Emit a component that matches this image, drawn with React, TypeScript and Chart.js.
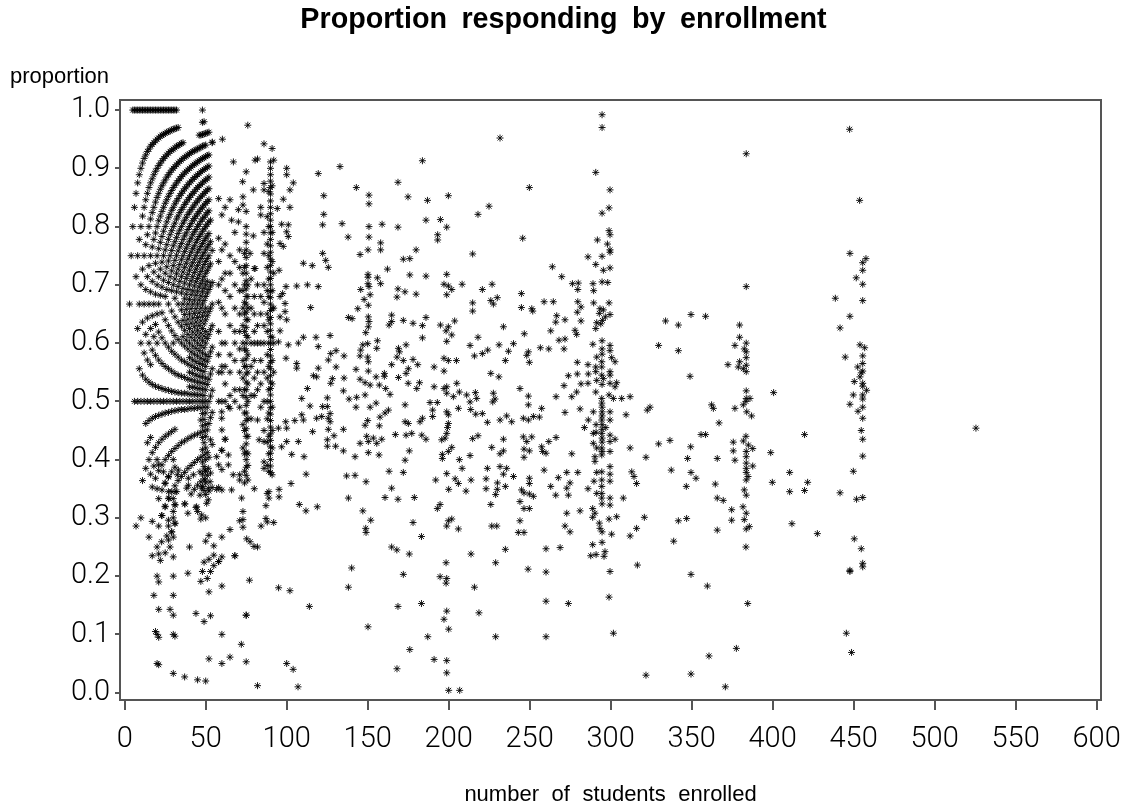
import React, { useEffect, useRef } from "react";
import { Chart, registerables } from "chart.js";

Chart.register(...registerables);

const titleText = "Proportion responding by enrollment";
const yLabelText = "proportion";
const xLabelText = "number of students enrolled";
const xTicksStep = 50;
const yTicksStep = 0.1;

// columns of enrollment -> proportions read from the dense left-hand arcs
const columnsLeft: [number, number[]][] = [
  [3, [.667]], [4, [.75]], [5, [1, .8]], [6, [1, .833, .5]], [7, [1, .857, .714, .286]],
  [8, [1, .875, .75, .625, .5]], [9, [1, .889, .778, .667, .556]], [10, [1, .9, .8, .7, .6, .5, .3]],
  [11, [1, .909, .818, .727, .636, .545, .364]], [12, [1, .917, .833, .75, .667, .583, .5]],
  [13, [1, .923, .846, .769, .692, .615, .538, .462, .385]], [14, [1, .929, .857, .786, .714, .643, .571, .5, .429]],
  [15, [1, .933, .867, .8, .733, .667, .6, .533, .467, .4, .267]],
  [16, [1, .938, .875, .813, .75, .688, .625, .563, .5, .438, .375]],
  [17, [1, .941, .882, .824, .765, .706, .647, .588, .529, .471, .412, .353, .294, .235]],
  [18, [1, .944, .889, .833, .778, .722, .667, .611, .5, .389, .167]],
  [19, [1, .947, .895, .842, .789, .737, .684, .632, .579, .526, .474, .421, .368, .105]],
  [20, [1, .95, .9, .85, .8, .75, .7, .65, .6, .5, .4, .35, .25, .2, .1, .05]],
  [21, [1, .952, .905, .857, .81, .762, .714, .667, .619, .571, .524, .476, .429, .381, .333, .286, .238, .19, .143, .095, .048]],
  [22, [1, .955, .909, .864, .818, .773, .727, .682, .5, .227]],
  [23, [1, .957, .913, .87, .826, .783, .739, .696, .652, .609, .565, .522, .478, .435, .391, .348, .304]],
  [24, [1, .958, .917, .875, .833, .792, .75, .708, .5]],
  [25, [1, .96, .92, .88, .84, .8, .76, .72, .68, .64, .6, .56, .52, .48, .44, .4, .36, .32, .24]],
  [26, [1, .962, .923, .885, .846, .808, .769, .731, .692, .5, .269]],
  [27, [1, .963, .926, .889, .852, .815, .778, .741, .704, .667, .63, .593, .556, .519, .481, .444, .407, .37, .333, .296]],
  [28, [1, .964, .929, .893, .857, .821, .786, .75, .714, .5, .25, .143]],
  [29, [1, .966, .931, .897, .862, .828, .793, .759, .724, .69, .655, .621, .586, .552, .517, .483, .448, .414, .379, .345, .276]],
  [30, [1, .967, .933, .9, .867, .833, .8, .767, .733, .7, .6, .5, .4, .333, .3, .267, .233, .2, .167, .133, .1, .033]],
  [31, [1, .968, .935, .903, .871, .839, .806, .774, .742, .71, .677, .645, .613, .581, .548, .516, .484, .452, .419, .387, .355, .323, .29, .097]],
  [32, [1, .969, .938, .906, .875, .844, .813, .781, .75, .719, .688, .5]],
  [33, [.97, .939, .909, .879, .848, .818, .788, .758, .727, .697, .667, .636, .606, .576, .545, .515, .485, .424, .364]],
  [34, [.941, .912, .882, .853, .824, .794, .765, .735, .706, .5]],
  [35, [.943, .914, .886, .857, .829, .8, .771, .743, .714, .686, .657, .629, .6, .571, .543, .514, .486, .429, .371]],
  [36, [.944, .917, .889, .861, .833, .806, .778, .75, .722, .694, .667, .639, .611, .5]],
  [37, [.919, .892, .865, .838, .811, .784, .757, .73, .703, .676, .649, .622, .595, .568, .541, .514, .486, .432, .378, .324, .027]],
  [38, [.921, .895, .868, .842, .816, .789, .763, .737, .711, .684, .658, .632, .605, .5]],
  [39, [.923, .897, .872, .846, .821, .795, .769, .744, .718, .692, .667, .641, .615, .59, .564, .538, .513, .487, .436, .385, .308, .205]],
  [40, [.925, .9, .875, .85, .825, .8, .775, .75, .725, .7, .675, .65, .625, .6, .575, .55, .525, .5, .25]],
  [41, [.927, .902, .878, .854, .829, .805, .78, .756, .732, .707, .683, .659, .634, .61, .585, .561, .537, .512, .488, .439, .39, .341]],
  [42, [.929, .905, .881, .857, .833, .81, .786, .762, .738, .714, .69, .667, .643, .619, .595, .571, .548, .524, .5]],
  [43, [.93, .907, .884, .86, .837, .814, .791, .767, .744, .721, .698, .674, .651, .628, .605, .581, .558, .535, .512, .488, .442, .395, .349]],
  [44, [.932, .909, .886, .864, .841, .818, .795, .773, .75, .727, .705, .682, .659, .636, .614, .591, .568, .545, .523, .5, .318, .136]],
  [45, [.933, .911, .889, .867, .844, .822, .8, .778, .756, .733, .711, .689, .667, .644, .622, .6, .578, .556, .533, .511, .489, .444, .4, .356, .311, .022]],
  [46, [.957, .935, .913, .891, .87, .848, .826, .804, .783, .761, .739, .717, .696, .674, .652, .63, .609, .587, .565, .543, .522, .5]],
  [47, [.957, .936, .915, .894, .872, .851, .83, .809, .787, .766, .745, .723, .702, .681, .66, .638, .617, .596, .574, .553, .532, .511, .489, .468, .447, .404, .362, .298, .191]],
  [48, [1, .979, .958, .938, .917, .896, .875, .854, .833, .813, .792, .771, .75, .729, .708, .688, .667, .646, .625, .604, .583, .563, .542, .521, .5, .479, .458, .438, .417, .396, .375, .354, .208]],
  [49, [.98, .959, .939, .918, .898, .878, .857, .837, .816, .796, .776, .755, .735, .714, .694, .673, .653, .633, .612, .592, .571, .551, .531, .51, .49, .469, .449, .429, .408, .388, .367, .347, .224, .122]],
  [50, [.96, .94, .92, .9, .88, .86, .84, .82, .8, .78, .76, .74, .72, .7, .68, .66, .64, .62, .6, .58, .56, .54, .52, .5, .48, .46, .44, .42, .4, .38, .36, .34, .3, .26, .02]],
  [51, [.961, .922, .902, .882, .863, .843, .824, .804, .784, .765, .745, .725, .706, .686, .647, .608, .569, .529, .49, .451, .412, .373, .196]],
  [52, [.962, .923, .904, .885, .865, .846, .827, .808, .788, .769, .75, .731, .692, .654, .615, .577, .538, .5, .462, .404, .346, .27, .229, .173, .058]],
  [53, [.811, .774, .736, .698, .66, .623, .585, .547, .509, .472, .434, .377, .208, .132]],
  [54, [.944, .759, .704, .667, .63, .593, .556, .519, .481, .426, .352]],
];

// columns further right
const columnsMid: [number, number[]][] = [
  [58, [.848, .78, .74, .7, .67, .62, .58, .55, .5, .391, .352, .225]],
  [60, [.82, .76, .71, .66, .6, .55, .5, .451, .416, .383, .348, .267, .233, .183, .1, .05]],
  [62, [.833, .77, .72, .69, .65, .6, .56, .53, .5, .435]],
  [65, [.846, .75, .72, .68, .63, .58, .55, .51, .488, .28, .061]],
  [68, [.79, .74, .7, .66, .62, .6, .57, .52, .5, .235]],
  [71, [.76, .73, .69, .65, .62, .59, .55, .52, .49, .374, .365, .295]],
  [73, [.851, .837, .72, .69, .66, .63, .6, .57, .54, .51, .46, .42, .311, .297, .284]],
  [74, [.754, .73, .7, .67, .65, .62, .59, .56, .52, .48, .45, .41, .38, .36]],
  [75, [.894, .826, .8, .787, .773, .76, .747, .733, .72, .707, .693, .68, .667, .653, .64, .627, .613, .6, .587, .573, .56, .547, .533, .52, .507, .493, .48, .467, .453, .44, .427, .413, .4, .387, .373, .133, .053]],
  [76, [.974, .7, .68, .66, .64, .61, .58, .55, .53, .5, .47, .44, .41, .39, .365]],
  [78, [.71, .66, .6, .56, .51, .47]],
  [80, [.728, .68, .65, .62, .6, .57, .54, .51, .35]],
  [82, [.916, .7, .63, .6, .55, .52, .468, .25, .012]],
  [84, [.833, .82, .68, .65, .6, .57, .53, .49]],
  [86, [.942, .874, .863, .79, .754, .7, .67, .63, .6, .55, .5, .45, .431, .396, .385]],
  [88, [.817, .77, .73, .69, .65, .62, .58, .54, .5, .47, .43, .39, .342, .293]],
  [89, [.86, .8, .75, .71, .68, .64, .6, .56, .52, .48, .44, .41, .38, .345, .334]],
  [90, [.911, .9, .889, .878, .867, .856, .844, .833, .822, .811, .8, .789, .778, .767, .756, .744, .733, .722, .711, .7, .689, .678, .667, .656, .644, .633, .622, .611, .6, .589, .578, .567, .556, .544, .533, .522, .511, .5, .489, .478, .467, .456, .444, .433, .422, .411, .4, .389, .378]],
  [91, [.934, .87, .79, .74, .69, .66, .61, .57, .53, .49, .45, .42, .374]],
  [92, [.914, .72, .66, .6, .55, .292]],
];

const scatterNear: [number, number][] = [
  [60.3, .95], [54.1, .945], [67.1, .911], [80.5, .914], [100, .9], [100, .889], [119.5, .891], [72.8, .877],
  [104.1, .875], [102, .863], [79.4, .863], [97.9, .847], [102, .833], [94.2, .831], [70.2, .829], [96.9, .804],
  [101, .803], [100, .791], [101, .783], [79.4, .784], [95.9, .771], [97.9, .766], [70.2, .808], [66, .811],
  [77.4, .754], [110.3, .737], [115.8, .733], [95.3, .725], [80.5, .728], [99.6, .697], [106.2, .698], [112.8, .7],
  [119.5, .697], [97.5, .685], [95.9, .68], [114.8, .661], [99, .668], [95.9, .645], [99, .654], [100, .64],
  [110.3, .61], [107.2, .6], [118.1, .61], [101, .597], [119.5, .594], [95.9, .621], [94.9, .602], [99.6, .574],
  [106.2, .565], [106.2, .557], [116.5, .544], [118.5, .542], [112.8, .522], [109.3, .505], [114.4, .492], [119.5, .557],
  [83, .434], [94.9, .454], [100, .454], [99.4, .465], [105, .467], [110.3, .468], [109.3, .477], [116, .448],
  [118.5, .471], [96.9, .422], [100, .431], [107.2, .431], [103.1, .409], [110.7, .405], [112, .375], [102.7, .359],
  [95.3, .349], [95.3, .336], [72.2, .334], [87.2, .321], [84.2, .286], [87.2, .299], [107.8, .323], [111.9, .312],
  [118.9, .319], [75.3, .264], [77.4, .259], [79.8, .251], [95, .18], [102, .175], [114, .148], [77, .193],
  [72, .083], [100, .05], [104, .04], [107, .01], [75, .133], [55, .252], [55, .236], [55, .218], [58, .225], [68, .235],
];

const scatterTopMid: [number, number][] = [
  [294.7, .992], [294.7, .97], [231.7, .952], [183.8, .913], [132.9, .903], [290.8, .893], [143, .867], [168.7, .876],
  [150.8, .854], [150.8, .839], [174.9, .851], [186.9, .845], [199.8, .853], [249.8, .867], [299.6, .863], [299, .832],
  [294.7, .823], [224.9, .835], [218.1, .821], [122.9, .853], [122.9, .821], [122.2, .803], [134.2, .805], [150.8, .8],
  [158.9, .804], [168.7, .799], [186, .811], [194.9, .812], [198.8, .799], [193.2, .786], [193.2, .777], [137.9, .782],
  [150.8, .782], [158, .772], [158, .76], [150.2, .76], [145.3, .752], [179.9, .76], [172, .744], [176, .745],
  [245.7, .78], [214.8, .753], [291.8, .777], [299, .793], [299.6, .786], [298, .77], [299.6, .76], [299.6, .756],
  [286, .748], [294.7, .749], [290.8, .735], [295.5, .725], [299.6, .729], [264, .731], [269.8, .714], [276.4, .702],
  [280, .703], [279.7, .692], [289.1, .702], [289.5, .69], [294.7, .705], [298.2, .704], [122.2, .754], [124.1, .742],
  [125.7, .73], [150.2, .718], [150.2, .713], [156, .712], [158, .702], [162.2, .727], [176, .717], [186, .715],
  [198.8, .718], [150.2, .702], [150.8, .697], [145.7, .692], [151.5, .683], [147.8, .675], [150.4, .665], [168.7, .693],
  [168.1, .679], [173, .688], [179.9, .684], [197.1, .701], [199.8, .698], [201.9, .692], [198.8, .683], [208.3, .701],
  [220.8, .692], [226.8, .701], [226, .673], [230, .678], [227.6, .667], [214.8, .669], [214.8, .655], [244.9, .685],
  [244.9, .661], [251.3, .659], [251.9, .655], [258.9, .671], [264.6, .671], [279.7, .671], [281.7, .662], [279.4, .653],
  [289.5, .669], [299, .669], [293.4, .659], [295.5, .657], [293, .651], [299.6, .649], [296.7, .645], [294.9, .639],
  [291.4, .635], [293.9, .633], [290.8, .625], [281.7, .638], [271.8, .64], [266.7, .647], [266.1, .636], [263, .621],
  [278, .622], [279, .615], [233.8, .628], [246.7, .616], [218.1, .61], [198.8, .603], [201.9, .614], [198.4, .621],
  [199.8, .628], [194.9, .631], [203.7, .638], [186, .644], [183.8, .63], [183.8, .609], [178, .634], [172, .639],
  [164.8, .648], [164.8, .637], [163.2, .631], [138.1, .644], [140.4, .642], [143.9, .659], [150.4, .645], [150.8, .637],
  [150.4, .628], [148.8, .618], [126.8, .613],
];

const scatterMidBand: [number, number][] = [
  [150, .599], [156, .604], [155.6, .591], [147, .597], [145.7, .588], [130.5, .587], [127.2, .582], [135.4, .578],
  [145.3, .578], [150, .576], [150.4, .568], [173.7, .597], [169, .591], [169.6, .585], [168.1, .576], [172, .57],
  [178, .572], [180.9, .563], [164.8, .563], [197.1, .574], [199.8, .57], [204.8, .57], [191, .559], [197.1, .552],
  [213.2, .596], [231.1, .597], [240, .599], [236.9, .586], [224.1, .588], [220.8, .582], [215.9, .578], [235, .57],
  [249.2, .585], [248.2, .579], [249.8, .567], [256.6, .592], [261.8, .59], [268.1, .605], [271.8, .607], [271.2, .59],
  [279.4, .567], [286, .563], [289, .598], [294.7, .604], [299.6, .596], [299.6, .587], [294.7, .59], [294.7, .581],
  [291.4, .576], [294.5, .568], [300.6, .575], [302.7, .568], [290.8, .559], [294.5, .559], [286.2, .547], [290.8, .551],
  [299.6, .551], [299.6, .545], [294.5, .545], [295.5, .539], [291.4, .536], [294.7, .529], [299.6, .531], [303.7, .532],
  [302.7, .525], [279.4, .547], [273.9, .544], [281.7, .53], [286, .531], [271.2, .527], [279, .516], [299, .511],
  [301.7, .505], [306.8, .505], [312, .508], [266.3, .508], [276, .508], [290.8, .516], [294.5, .505], [249.2, .509],
  [244, .522], [226, .548], [231, .542], [227.6, .514], [228.6, .504], [205, .531], [198.8, .525], [191, .525],
  [197.1, .522], [198.8, .514], [202.9, .508], [206.6, .516], [211.1, .511], [216.5, .515], [217.3, .505], [175, .531],
  [180.3, .522], [182, .532], [173.7, .548], [175.1, .556], [169, .541], [160.3, .548], [160.3, .543], [155.2, .542],
  [145.3, .538], [148.4, .532], [151.5, .528], [157.2, .528], [161.1, .522], [163.8, .512], [150.4, .552], [142.8, .555],
  [130.5, .559], [135.4, .54], [128.2, .539], [127.2, .531], [135, .518], [125.7, .571], [125.1, .506], [138.5, .504],
  [143.2, .507], [148.4, .511],
];

const scatterLowMid: [number, number][] = [
  [142.8, .49], [151.5, .49], [155.2, .497], [162.8, .485], [160.7, .48], [157.6, .473], [173.1, .494], [188.5, .498],
  [193, .498], [206, .488], [198.8, .482], [190.1, .485], [190.1, .474], [213.6, .486], [216.7, .478], [220.8, .479],
  [213.2, .499], [227.2, .499], [249.2, .494], [257.4, .488], [271.8, .481], [281.1, .487], [309.5, .477], [289.3, .482],
  [286.2, .468], [283.8, .455], [294.5, .497], [299.6, .482], [299.6, .468], [294.5, .468], [289.3, .445], [294.5, .445],
  [299.6, .442], [302.7, .435], [299.6, .431], [289.3, .428], [294.5, .42], [291.4, .42], [299.6, .414], [294.5, .408],
  [290.3, .405], [290.3, .397], [312, .42], [276, .41], [266.3, .438], [261.8, .431], [257.4, .422], [258, .414],
  [260.1, .411], [249.2, .468], [246.1, .471], [252.3, .474], [256, .473], [238.9, .465], [235.8, .475], [231.7, .468],
  [223.9, .464], [218.1, .441], [214.8, .436], [233.8, .435], [246.1, .439], [251.3, .439], [248.2, .431], [226.6, .421],
  [233.8, .415], [231.7, .41], [246.5, .418], [249.8, .415], [246.5, .404], [213.2, .407], [206.6, .4], [201.9, .421],
  [199.8, .414], [196.1, .409], [196.1, .402], [197.8, .437], [199.8, .462], [199.8, .477], [198.8, .445], [195.7, .434],
  [199.3, .455], [182.3, .465], [183.8, .471], [175.1, .462], [173.1, .465], [173.7, .442], [177.2, .445], [183.4, .442],
  [186, .435], [167.1, .443], [157.2, .458], [150, .467], [148.4, .459], [149.4, .44], [150.4, .431], [158.7, .435],
  [153.5, .437], [155.6, .428], [145.3, .428], [135, .452], [125.7, .452], [129.2, .441], [125.1, .434], [125.1, .423],
  [130.2, .423], [135, .415], [150.4, .412], [157, .408], [142.2, .405], [175.7, .415], [173.1, .399], [125.1, .491],
  [126.8, .479], [126.8, .465], [122.2, .491], [121.6, .474], [125.7, .471], [294.7, .49], [294.7, .482], [294.7, .475],
  [294.7, .46], [294.7, .452], [294.7, .437], [294.7, .43], [294.7, .414], [291, .46], [291, .447], [297, .455],
  [163.2, .38], [172, .378], [198.8, .376], [208.3, .385], [192, .365], [204, .367], [206, .359], [200, .349],
  [213.8, .365], [210.7, .346], [223.9, .385], [223.1, .367], [223.1, .35], [229, .34], [230.1, .36], [230, .349],
  [235, .354], [231.7, .388], [235.8, .385], [233.8, .375], [240, .371], [249.8, .368], [249.8, .359], [245, .348],
  [246.5, .343], [249.8, .341], [252.3, .337], [258.9, .382], [267.7, .369], [272.9, .378], [274.9, .36], [272.9, .351],
  [279.7, .378], [263, .354], [266.1, .339], [273.9, .339], [286, .35], [289.7, .363], [291.4, .378], [294.5, .379],
  [299.6, .388], [299.6, .375], [299.6, .363], [294.5, .365], [294.5, .354], [291.4, .342], [294.5, .342], [299.6, .334],
  [294.5, .334], [299.6, .322], [294.7, .324], [307.8, .334], [313, .379], [314.4, .371], [316, .359], [137, .372],
  [142.2, .373], [149, .362], [164.8, .351], [138.1, .334], [160.7, .335], [168.7, .332], [178.8, .335], [147, .312],
  [151.9, .296], [148.8, .282], [149, .275], [178, .292], [183.2, .268], [164.8, .25], [168, .245], [175.7, .238],
  [193, .316], [194.7, .323], [198.8, .286], [199.8, .295], [201.9, .298], [206, .281], [226, .323], [244, .328],
  [246.5, .316], [249.8, .316], [244, .295], [226.6, .286], [229.7, .286], [243, .275], [246.5, .275], [235, .246],
  [213.8, .238], [198.4, .223], [229, .223], [249, .212], [260.1, .247], [268.8, .249], [260.1, .207], [272.9, .308],
  [281.1, .312], [271.8, .286], [274.9, .276], [288.9, .316], [290.3, .308], [288.9, .301], [299, .298], [303.7, .302],
  [293, .291], [293.4, .282], [294.7, .276], [300.6, .272], [312, .269], [316, .282], [288.9, .254], [294.7, .258],
  [296.5, .242], [287.7, .235], [291, .237], [295.9, .234], [316.5, .219], [299.6, .208], [140.1, .214], [172, .203],
  [138.1, .181], [194.7, .199], [198.8, .196], [198.4, .188], [215.9, .181], [299, .164], [260.1, .157], [273.9, .153],
  [168.7, .148], [183.2, .153], [198.8, .14], [197.1, .126], [218.7, .137], [150.2, .113], [200, .109], [187.1, .096],
  [229, .096], [260.1, .096], [301.7, .102], [176, .074], [191, .057], [198.8, .055], [168.1, .041], [198.8, .034],
  [200, .004], [206.8, .004],
];

const scatterRight: [number, number][] = [
  [447.5, .967], [383.7, .925], [453.7, .845], [447.7, .754], [457.6, .745], [455.6, .738], [455.6, .725], [451.6, .712],
  [455.6, .701], [438.7, .677], [455.6, .673], [383.7, .697], [447.7, .646], [441.6, .626], [349.6, .649], [358.6, .646],
  [333.9, .638], [341.8, .631], [379.6, .631], [379.6, .61], [383.7, .6], [376.7, .596], [329.6, .596], [341.8, .587],
  [382.5, .59], [383.7, .585], [383.7, .575], [379.6, .568], [372.4, .563], [378.8, .559], [383.7, .562], [381.9, .556],
  [383.7, .551], [349, .543], [383.7, .518], [383.7, .505], [386, .505], [400.6, .515], [453.9, .597], [456.8, .592],
  [455.6, .578], [444.8, .576], [455.6, .565], [452.5, .559], [455.6, .552], [454.7, .549], [453.9, .542], [450.4, .534],
  [455.6, .531], [455.6, .526], [458, .519], [449.8, .511], [455.6, .511], [455.6, .504], [324.3, .49], [322.6, .485],
  [362.3, .494], [363.4, .488], [376.7, .488], [381.9, .494], [383.5, .5], [384, .482], [387, .475], [366.9, .463],
  [355.8, .443], [358.6, .443], [336.6, .433], [329.6, .427], [349.4, .422], [321.8, .404], [347.5, .402], [365.8, .402],
  [376.7, .399], [375.7, .43], [375.7, .415], [383.5, .44], [381.9, .432], [385, .425], [387.7, .419], [383.7, .414],
  [383.7, .405], [383.7, .394], [383.7, .385], [387.7, .389], [383.7, .378], [384.8, .371], [383.7, .365], [382.5, .348],
  [383.7, .339], [381.7, .319], [383.7, .308], [382.5, .297], [385.6, .285], [383.7, .281], [374.7, .314], [374.7, .296],
  [365.8, .279], [383.5, .25], [365.8, .334], [369.5, .33], [364.6, .358], [337.4, .382], [349.6, .378], [352.7, .368],
  [346.7, .354], [320.8, .301], [341.8, .295], [346.9, .299], [338.9, .26], [349.6, .203], [359.7, .183], [384.6, .153],
  [377.6, .076], [360.7, .063], [321.8, .03], [349.6, .032], [370.8, .01], [398.8, .412], [399.8, .361], [410.5, .378],
  [410.5, .345], [419.7, .443], [421.6, .361], [419.7, .347], [441.6, .343], [411.9, .29], [427.6, .273], [447.7, .495],
  [452.7, .483], [455.6, .49], [455.6, .471], [454.7, .45], [455.6, .435], [455.6, .406], [449.8, .38], [455.6, .335],
  [451.8, .332], [450.4, .264], [454.7, .247], [455.6, .222], [455.6, .216], [447.7, .21], [447.7, .208], [445.5, .102],
  [448.7, .069], [525.5, .454],
];

const lowLeftCluster: [number, number][] = [
  [38.3, .351], [39.3, .356], [39.3, .368], [42.4, .374], [46.5, .379], [49.6, .382], [51.6, .385], [37.2, .324],
  [44.4, .319], [47.5, .305], [51.6, .331], [50.6, .325], [46.5, .339], [47.5, .351], [49.6, .365], [52.7, .362],
  [51.6, .351], [27.4, .334], [24.9, .319], [22.8, .304], [30, .311], [31.1, .322], [31.1, .291], [27, .286],
  [29, .276], [27, .262], [22.8, .259], [32.5, .374], [33.1, .382], [27, .371], [23.9, .379], [20.8, .391],
  [31.1, .345], [27, .345], [24.9, .359], [32.1, .345], [56.8, .405], [64, .408], [62, .435], [64, .391],
  [67, .374], [56.8, .349], [66, .348], [59.9, .416], [64, .491], [59.9, .482], [59.9, .471], [60, .56],
];

const toPoints = (cols: [number, number[]][]) =>
  cols.flatMap(([x, ys]) => ys.map((y) => ({ x, y })));
const fromPairs = (pairs: [number, number][]) => pairs.map(([x, y]) => ({ x, y }));

const allPoints = [
  ...toPoints(columnsLeft),
  ...toPoints(columnsMid),
  ...fromPairs(scatterNear),
  ...fromPairs(scatterTopMid),
  ...fromPairs(scatterMidBand),
  ...fromPairs(scatterLowMid),
  ...fromPairs(scatterRight),
  ...fromPairs(lowLeftCluster),
];

const AXIS = "#555555";
const FONT = "'Liberation Sans', Arial, sans-serif";
const TICK_FONT = { family: "Roboto, 'Liberation Sans', sans-serif", size: 29, weight: "300" };

export default function App() {
  const ref = useRef<HTMLCanvasElement>(null);
  useEffect(() => {
    const spacing = {
      id: "wordSpacing",
      beforeDraw(c: any) {
        c.ctx.wordSpacing = "6.5px";
      },
    };
    const chart = new Chart(ref.current!, {
      type: "scatter",
      data: {
        datasets: [
          {
            label: "proportion",
            data: allPoints,
            pointStyle: "star",
            pointRadius: 3.5,
            pointBorderWidth: 0.9,
            borderColor: "#000",
            backgroundColor: "#000",
            pointBorderColor: "#000",
          },
        ],
      },
      plugins: [spacing],
      options: {
        responsive: false,
        animation: false,
        layout: { padding: { left: 10, right: 10, top: 0, bottom: 0 } },
        plugins: {
          legend: { display: false },
          tooltip: { enabled: false },
          title: {
            display: true,
            text: titleText,
            color: "#000",
            font: { family: FONT, size: 28.7, weight: "bold" },
            padding: { top: 3, bottom: 0 },
          },
          subtitle: {
            display: true,
            text: yLabelText,
            align: "start",
            color: "#000",
            font: { family: FONT, size: 22, weight: "normal" },
            padding: { top: 26.4, bottom: 9.8 },
          },
        },
        scales: {
          x: {
            type: "linear",
            min: -2.9,
            max: 602.7,
            position: "bottom",
            afterFit: (s: any) => {
              s.height = 109;
              s.paddingRight = 0;
              s.paddingLeft = 0;
            },
            grid: { drawOnChartArea: false, tickLength: 10, color: AXIS, lineWidth: 2 },
            border: { color: AXIS, width: 2 },
            ticks: {
              stepSize: xTicksStep,
              includeBounds: false,
              color: "#000",
              maxRotation: 0,
              autoSkip: false,
              padding: 12.6,
              font: TICK_FONT,
            },
            title: {
              display: true,
              text: xLabelText,
              color: "#000",
              font: { family: FONT, size: 22 },
              padding: { top: 0, bottom: 0.8 },
            },
          },
          y: {
            type: "linear",
            min: -0.0126,
            max: 1.0172,
            position: "left",
            afterFit: (s: any) => {
              s.width = 110;
              s.paddingTop = 0;
              s.paddingBottom = 0;
            },
            grid: { drawOnChartArea: false, tickLength: 5, color: AXIS, lineWidth: 2 },
            border: { color: AXIS, width: 2 },
            ticks: {
              stepSize: yTicksStep,
              includeBounds: false,
              color: "#000",
              padding: 5,
              autoSkip: false,
              font: TICK_FONT,
              callback: (v: any) => Number(v).toFixed(1),
            },
          },
          xTop: {
            type: "linear",
            position: "top",
            display: true,
            afterFit: (s: any) => {
              s.height = 0;
            },
            grid: { display: false, drawTicks: false },
            border: { display: true, color: AXIS, width: 2 },
            ticks: { display: false },
          },
          yRight: {
            type: "linear",
            position: "right",
            display: true,
            afterFit: (s: any) => {
              s.width = 16;
            },
            grid: { display: false, drawTicks: false },
            border: { display: true, color: AXIS, width: 2 },
            ticks: { display: false },
          },
        },
      },
    } as any);
    return () => chart.destroy();
  }, []);
  return (
    <div style={{ position: "fixed", left: 0, top: 0, width: 1127, height: 809, background: "#fff" }}>
      <canvas ref={ref} width={1127} height={809} style={{ display: "block" }} />
    </div>
  );
}
